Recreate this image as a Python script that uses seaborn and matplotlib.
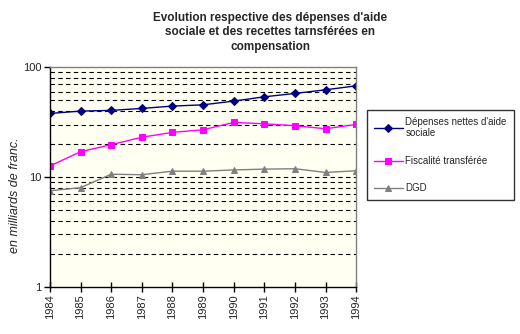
import matplotlib
matplotlib.use("Agg")
import matplotlib.pyplot as plt
import seaborn as sns
import pandas as pd
import numpy as np
from matplotlib.ticker import FixedLocator

years = [1984, 1985, 1986, 1987, 1988, 1989, 1990, 1991, 1992, 1993, 1994]
depenses = [37.9, 39.8, 40.4, 42.1, 44.2, 45.4, 49.1, 53.7, 57.6, 62.2, 67.6]
fiscalite = [12.6, 17.0, 19.7, 23.0, 25.5, 26.9, 31.4, 30.5, 29.3, 27.5, 30.1]
dgd = [7.5, 8.0, 10.6, 10.5, 11.3, 11.3, 11.6, 11.8, 11.9, 11.0, 11.4]
series_names = ["Dépenses nettes d'aide\nsociale", "Fiscalité transférée", "DGD"]

df = pd.DataFrame({
    "year": years * 3,
    "value": depenses + fiscalite + dgd,
    "series": [series_names[0]] * len(years) + [series_names[1]] * len(years) + [series_names[2]] * len(years),
})

sns.set_theme(style="white")
plt.rcParams['font.family'] = ['Liberation Sans', 'DejaVu Sans']

fig = plt.figure(figsize=(5.2, 3.34), dpi=100)
ax = fig.add_axes([0.096, 0.141, 0.589, 0.658])
ax.set_facecolor("#FFFFF2")

palette = {series_names[0]: "#000080", series_names[1]: "#FF00FF", series_names[2]: "#808080"}
markers = {series_names[0]: "D", series_names[1]: "s", series_names[2]: "^"}
sizes_m = {series_names[0]: 4.2, series_names[1]: 5, series_names[2]: 5}

for name in series_names:
    sub = df[df["series"] == name]
    sns.lineplot(data=sub, x="year", y="value", ax=ax, color=palette[name],
                 marker=markers[name], markersize=sizes_m[name],
                 markeredgecolor=palette[name], linewidth=1, label=name)

ax.set_yscale("log")
ax.set_ylim(1, 100)
ax.set_xlim(1984, 1994)

grid_vals = [v * d for d in (1, 10) for v in range(2, 10)] + [10]
for v in grid_vals:
    ax.axhline(v, color="black", linestyle=(0, (4, 3)), linewidth=0.8, zorder=1)

ax.yaxis.set_major_locator(FixedLocator([1, 10, 100]))
ax.yaxis.set_major_formatter(matplotlib.ticker.FuncFormatter(lambda v, p: f"{int(v)}"))
ax.yaxis.set_minor_locator(FixedLocator([]))
ax.set_xticks(years)
ax.set_xticklabels([str(y) for y in years], rotation=90)
ax.tick_params(axis="y", which="major", direction="out", length=4, width=1, color="black",
               left=True, labelsize=8, pad=2)
ax.tick_params(axis="x", which="major", direction="inout", length=7, width=1, color="black",
               bottom=True, labelsize=8, pad=2)

for side in ("left", "bottom"):
    ax.spines[side].set_color("black")
    ax.spines[side].set_linewidth(1)
for side in ("top", "right"):
    ax.spines[side].set_color("#808080")
    ax.spines[side].set_linewidth(1)
    ax.spines[side].set_visible(True)

ax.set_xlabel("")
ax.set_ylabel("")
fig.text(15 / 520, 1 - 195 / 334, "en milliards de franc.", rotation=90, ha="center", va="center",
         fontsize=9, style="italic")

leg = ax.legend(loc="upper left", bbox_to_anchor=(367 / 520, 1 - 110 / 334),
                bbox_transform=fig.transFigure, frameon=True, fancybox=False,
                fontsize=7, handlelength=3.0, handletextpad=0.25, labelspacing=1.8,
                borderpad=0.7, borderaxespad=0)
leg.get_frame().set_edgecolor("black")
leg.get_frame().set_linewidth(1)

fig.text(0.52, 0.965, "Evolution respective des dépenses d'aide\nsociale et des recettes tarnsférées en\ncompensation",
         ha="center", va="top", fontsize=8.5, fontweight="bold", linespacing=1.3)

fig.savefig("out.png", dpi=100, facecolor="white")
